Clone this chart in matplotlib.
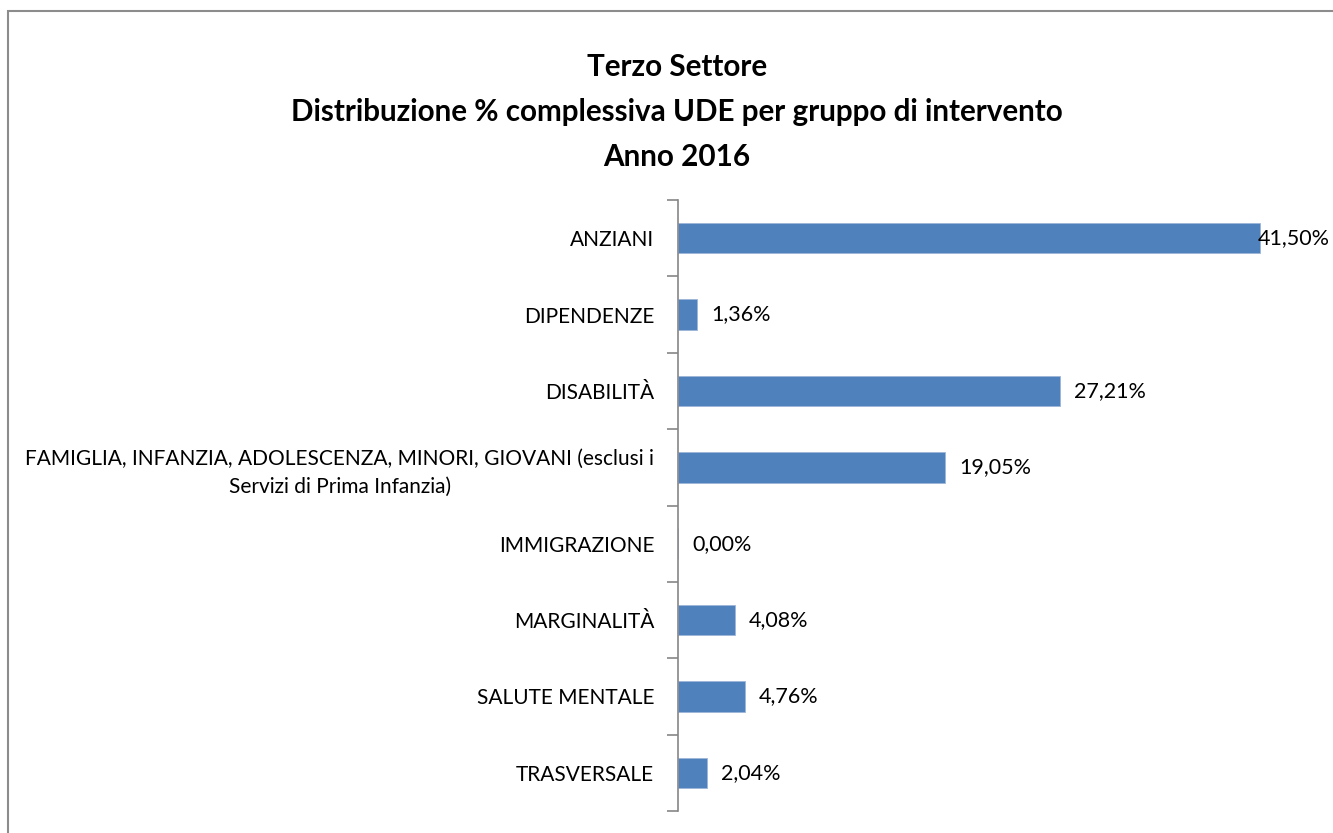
import matplotlib
matplotlib.use("Agg")
import matplotlib.pyplot as plt
import numpy as np

CATEGORIES = [
    "ANZIANI",
    "DIPENDENZE",
    "DISABILITÀ",
    "FAMIGLIA, INFANZIA, ADOLESCENZA, MINORI, GIOVANI (esclusi i\nServizi di Prima Infanzia)",
    "IMMIGRAZIONE",
    "MARGINALITÀ",
    "SALUTE MENTALE",
    "TRASVERSALE",
]
VALUES = [41.50, 1.36, 27.21, 19.05, 0.00, 4.08, 4.76, 2.04]
TITLE = "Terzo Settore\nDistribuzione % complessiva UDE per gruppo di intervento\nAnno 2016"

BAR_COLOR = "#4F81BD"
AXIS_COLOR = "#868686"
FONT = "Lato"

fig = plt.figure(figsize=(13.33, 8.33), dpi=100)
ax = fig.add_axes([0.5086, 0.0264, 0.4735, 0.7335])

y = np.arange(len(CATEGORIES))
bars = ax.barh(y, VALUES, height=0.4, color=BAR_COLOR, edgecolor="#9db6d8", linewidth=0.6)
xmax = 45
ax.set_xlim(0, xmax)
ax.set_ylim(len(CATEGORIES) - 0.5, -0.5)

ax.set_yticks(y)
ax.set_yticklabels(CATEGORIES, fontsize=15, fontfamily=FONT, linespacing=1.45)
ax.tick_params(axis="y", which="major", length=0, pad=17)
for lbl in ax.get_yticklabels():
    lbl.set_horizontalalignment("right")
    lbl.set_multialignment("center")
ax.set_yticks(np.arange(len(CATEGORIES) + 1) - 0.5, minor=True)
ax.tick_params(axis="y", which="minor", length=8, width=1.2, color=AXIS_COLOR, direction="out")
ax.set_xticks([])

for side in ["top", "right", "bottom"]:
    ax.spines[side].set_visible(False)
ax.spines["left"].set_color(AXIS_COLOR)
ax.spines["left"].set_linewidth(1.2)

for b, v in zip(bars, VALUES):
    txt = f"{v:.2f}%".replace(".", ",")
    x = v + 1.0
    if x + 5.5 > xmax:
        x = v - 0.15
    ax.text(x, b.get_y() + b.get_height() / 2, txt, va="center", ha="left",
            fontsize=15.5, fontfamily=FONT)

fig.text(0.508, 0.8655, TITLE, ha="center", va="center", fontsize=21.3,
         fontweight="bold", fontfamily=FONT, linespacing=1.73)

# chart border (right/bottom edges fall outside the picture)
fig.patches.append(plt.Rectangle((8 / 1333, -0.1), 1.2, 1 - 11 / 833 + 0.1,
                                 transform=fig.transFigure, fill=False,
                                 edgecolor="#8c8c8c", linewidth=1.5))

fig.savefig("out.png", dpi=100)
